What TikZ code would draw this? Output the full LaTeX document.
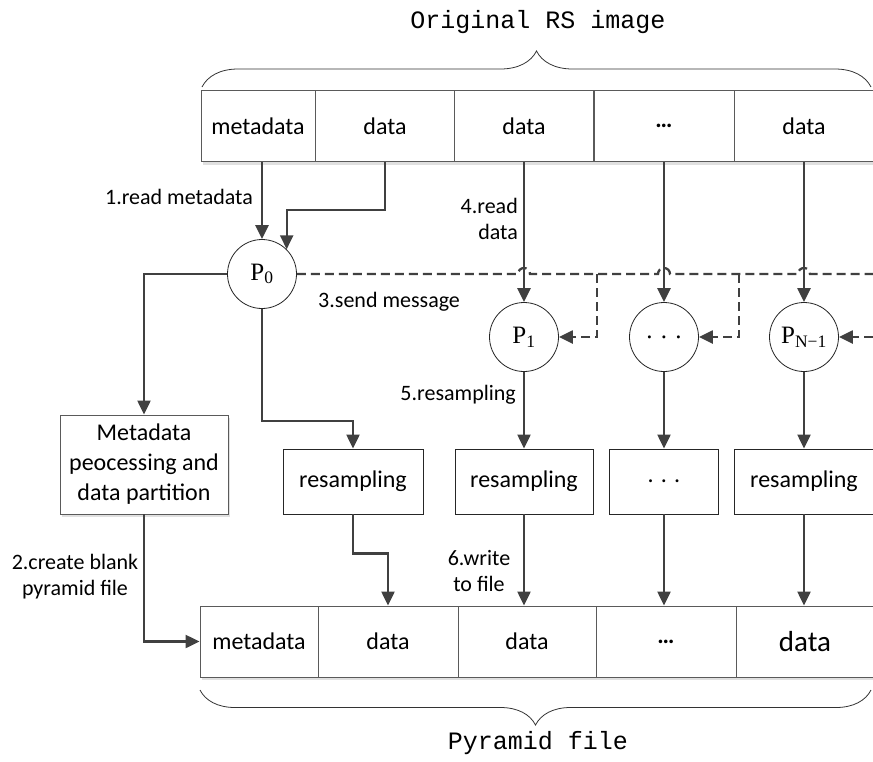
\documentclass[tikz,border=0pt]{standalone}
\usepackage{fontspec}
\setmainfont{Carlito}
\newfontfamily\titlefont{Liberation Mono}
\newfontfamily\procfont{Liberation Serif}
\usetikzlibrary{arrows.meta,positioning,decorations.pathreplacing,shadows}
\definecolor{linegray}{HTML}{404040}
\definecolor{boxgray}{HTML}{5A5A5A}

\begin{document}
\begin{tikzpicture}[
x=1pt, y=-1pt,
cell/.style={rectangle, draw=boxgray, fill=white, line width=0.9pt, minimum height=71pt, inner sep=0pt, font=\fontsize{24}{28}\selectfont, drop shadow={shadow xshift=2pt, shadow yshift=-3pt, fill=black!12, opacity=1}},
process/.style={rectangle, draw=black!85, fill=white, line width=0.9pt, minimum height=65pt, inner sep=0pt, font=\fontsize{24}{28}\selectfont},
proc/.style={circle, draw=black!85, fill=white, line width=0.8pt, minimum size=69pt, inner sep=0pt, font=\procfont\fontsize{25}{27}\selectfont},
note/.style={font=\fontsize{22}{26}\selectfont, align=center, inner sep=0pt},
title/.style={font=\titlefont\fontsize{25}{28}\selectfont},
arrow/.style={-{Triangle[length=14pt,width=13pt]}, line width=2.3pt, draw=linegray},
message/.style={line width=2.3pt, draw=linegray, dash pattern=on 9pt off 5pt},
msgarrow/.style={message, -{Triangle[length=14pt,width=13pt]}},
bracket/.style={decorate, decoration={brace, amplitude=36pt}, line width=0.8pt, draw=black!80},
bracketdown/.style={decorate, decoration={brace, mirror, amplitude=35pt}, line width=0.8pt, draw=black!80}
]
\useasboundingbox (0,0) rectangle (873,761);

% original image
\node[cell, minimum width=114pt] (meta) at (258,126) {metadata};
\node[cell, minimum width=140pt] (d1) at (385,126) {data};
\node[cell, minimum width=139pt] (d2) at (524,126) {data};
\node[cell, minimum width=140pt] (dd) at (664,126) {\textbf{…}};
\node[cell, minimum width=140pt] (dn) at (804,126) {data};
\draw[bracket] (202,87) -- (871,87);
\node[title] (orig) at (538,22) {Original RS image};

% processes
\node[proc] (p0) at (262,274) {P\textsubscript{0}};
\node[proc] (p1) at (524,337) {P\textsubscript{1}};
\node[proc] (pdots) at (664,337) {. . .};
\node[proc] (pn) at (804,337) {P\textsubscript{N−1}};

% jobs
\node[cell, minimum width=168pt, minimum height=99pt, align=center, font=\fontsize{24}{30}\selectfont] (mbox) at (144,464.5) {Metadata\\peocessing and\\data partition};
\node[process, minimum width=140pt] (r0) at (353,481.5) {resampling};
\node[process, minimum width=138pt] (r1) at (524,481.5) {resampling};
\node[process, minimum width=109pt] (rdots) at (664,481.5) {. . .};
\node[process, minimum width=139pt] (rn) at (804,481.5) {resampling};

% pyramid file
\node[cell, minimum width=118pt] (pmeta) at (259,641.5) {metadata};
\node[cell, minimum width=140pt] (pd1) at (388,641.5) {data};
\node[cell, minimum width=138pt] (pd2) at (527,641.5) {data};
\node[cell, minimum width=140pt] (pdd) at (666,641.5) {\textbf{…}};
\node[cell, minimum width=138pt, font=\fontsize{29}{32}\selectfont] (pdn) at (805,641.5) {data};
\draw[bracketdown] (200,690) -- (871,690);
\node[title] (pyr) at (538,743) {Pyramid file};

% step labels
\node[note, anchor=east] (l1) at (253,197) {1.read metadata};
\node[note] (l2) at (75,577) {2.create blank\\pyramid file};
\node[note, anchor=west] (l3) at (318,302) {3.send message};
\node[note, anchor=east, align=right] (l4) at (518,219) {4.read\\data};
\node[note, anchor=east] (l5) at (516,395) {5.resampling};
\node[note] (l6) at (479,571) {6.write\\to file};

% master process
\draw[arrow] (p0.north |- meta.south) -- (p0.north);
\draw[arrow] (d1.south) -- ++(0,48) -| (p0.45);
\draw[arrow] (p0.west) -| (mbox.north);
\draw[arrow] (p0.south) -- ++(0,112) -| (r0.north);
\draw[arrow] (r0.south) -- ++(0,39) -| (pd1.north);
\draw[arrow] (mbox.south) |- (pmeta.west);

% worker processes
\foreach \src/\proc/\job/\dst in {d2/p1/r1/pd2, dd/pdots/rdots/pdd, dn/pn/rn/pdn} {
  \draw[arrow] (\src.south) -- (\proc.north);
  \draw[arrow] (\proc.south) -- (\job.north);
  \draw[arrow] (\job.south) -- (\job.south |- \dst.north);
}

% messages
\coordinate (edge) at (873,274);
\coordinate (tap1) at (597,274);
\coordinate (tap2) at (739,274);
\coordinate (tapn) at (873,337);
\draw[message] (p0.east) -- (518,274) arc[start angle=180, end angle=360, radius=6]
  -- (658,274) arc[start angle=180, end angle=360, radius=6]
  -- (798,274) arc[start angle=180, end angle=360, radius=6] -- (edge);
\draw[msgarrow] (tap1) |- (p1.east);
\draw[msgarrow] (tap2) |- (pdots.east);
\draw[msgarrow] (tapn) -- (pn.east);

\end{tikzpicture}
\end{document}
